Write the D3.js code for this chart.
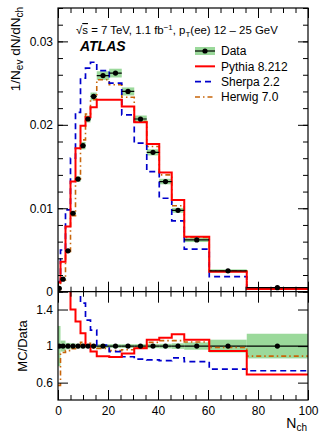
<!DOCTYPE html>
<html>
<head>
<meta charset="utf-8">
<script src="https://cdn.jsdelivr.net/npm/d3@7"></script>
<style>
  body { margin: 0; background: #fff; }
  svg { display: block; font-family: "Liberation Sans", Arial, sans-serif; }
  .axis .domain { display: none; }
  .axis line { stroke: #000; stroke-width: 1; }
  .axis text { font-size: 12px; fill: #000; }
</style>
</head>
<body>
<div id="wrapper"></div>
<script>
// bin edges in N_ch, and values
const binEdges = [0, 1, 3, 5, 7, 9, 11, 13, 15.5, 20.5, 25.5, 30.5, 35.5, 40.5, 45.5, 50.5, 60.5, 75.5, 100];
const dataValues = [0.0004, 0.0015, 0.0049, 0.0094, 0.0135, 0.0175, 0.0207, 0.0234, 0.0259, 0.0262, 0.0240, 0.0207, 0.0167, 0.0132, 0.00975, 0.0062, 0.0025, 0.00048];
const dataRelErr = [0.22, 0.06, 0.035, 0.03, 0.025, 0.025, 0.02, 0.02, 0.02, 0.02, 0.02, 0.02, 0.022, 0.025, 0.03, 0.04, 0.07, 0.135];
const pythiaValues = [0.0011, 0.0036, 0.0078, 0.0132, 0.0172, 0.0199, 0.0209, 0.0221, 0.0230, 0.0230, 0.0222, 0.0203, 0.0177, 0.0143, 0.0110, 0.0066, 0.0024, 0.00033];
const sherpaValues = [0.0012, 0.0050, 0.0098, 0.0160, 0.0215, 0.0256, 0.0268, 0.0275, 0.0265, 0.0250, 0.0212, 0.0178, 0.0144, 0.0112, 0.0085, 0.0051, 0.0018, 0.00034];
const herwigValues = [0.00023, 0.0014, 0.0047, 0.0091, 0.0135, 0.0182, 0.0213, 0.0230, 0.0254, 0.0248, 0.0233, 0.0204, 0.0174, 0.0140, 0.0103, 0.0065, 0.0025, 0.00043];
const pythiaRatio = [2.7, 2.4, 1.62, 1.40, 1.27, 1.14, 1.01, 0.94, 0.89, 0.88, 0.92, 0.975, 1.07, 1.09, 1.13, 1.07, 0.945, 0.69];
const sherpaRatio = [3.0, 3.3, 2.0, 1.7, 1.62, 1.47, 1.285, 1.175, 1.01, 0.94, 0.883, 0.857, 0.85, 0.84, 0.87, 0.83, 0.748, 0.73];
const herwigRatio = [0.57, 0.93, 0.95, 0.97, 1.00, 1.04, 1.03, 0.98, 0.975, 0.95, 0.96, 0.985, 1.04, 1.06, 1.06, 1.045, 0.985, 0.89];

const xTicksMajor = [0, 20, 40, 60, 80, 100];
const yTopTicksMajor = [0, 0.01, 0.02, 0.03];
const yTopTickLabels = ["0", "0.01", "0.02", "0.03"];
const yRatioTicksMajor = [0.6, 1, 1.4];
const yRatioTickLabels = ["0.6", "1", "1.4"];

const legendNames = ["Data", "Pythia 8.212", "Sherpa 2.2", "Herwig 7.0"];

function drawChart() {
    // 1. dimensions
    const dimensions = {
        width: 320,
        height: 432,
        left: 58,
        right: 308,
        top: 8,
        split: 291.7,
        bottom: 400,
    };

    const bins = dataValues.map((d, i) => ({
        lo: binEdges[i],
        hi: binEdges[i + 1],
        mid: (binEdges[i] + binEdges[i + 1]) / 2,
        data: d,
        err: dataRelErr[i],
    }));

    const models = [
        { name: "pythia", top: pythiaValues, ratio: pythiaRatio, color: "#ff0000", width: 2, dash: null },
        { name: "sherpa", top: sherpaValues, ratio: sherpaRatio, color: "#0000cc", width: 1.7, dash: "6,4" },
        { name: "herwig", top: herwigValues, ratio: herwigRatio, color: "#c8650a", width: 1.6, dash: "5,3,1.5,3" },
    ];

    // 2. canvas
    const svg = d3.select("#wrapper").append("svg")
        .attr("width", dimensions.width)
        .attr("height", dimensions.height);

    const defs = svg.append("defs");
    defs.append("clipPath").attr("id", "clip-top").append("rect")
        .attr("x", dimensions.left).attr("y", dimensions.top)
        .attr("width", dimensions.right - dimensions.left)
        .attr("height", dimensions.split - dimensions.top);
    defs.append("clipPath").attr("id", "clip-ratio").append("rect")
        .attr("x", dimensions.left).attr("y", dimensions.split)
        .attr("width", dimensions.right - dimensions.left)
        .attr("height", dimensions.bottom - dimensions.split);

    // 3. scales
    const xScale = d3.scaleLinear().domain([0, 100]).range([dimensions.left, dimensions.right]);
    const yTop = d3.scaleLinear().domain([0, 0.034]).range([dimensions.split, dimensions.top]);
    const yRatio = d3.scaleLinear().domain([0.41, 1.595]).range([dimensions.bottom, dimensions.split]);

    const topG = svg.append("g").attr("clip-path", "url(#clip-top)");
    const ratioG = svg.append("g").attr("clip-path", "url(#clip-ratio)");

    // 4. data error bands
    topG.selectAll(".band").data(bins).join("rect")
        .attr("x", d => xScale(d.lo))
        .attr("width", d => xScale(d.hi) - xScale(d.lo))
        .attr("y", d => yTop(d.data * (1 + d.err)))
        .attr("height", d => yTop(d.data * (1 - d.err)) - yTop(d.data * (1 + d.err)))
        .attr("fill", "#9bd99b");

    ratioG.selectAll(".band").data(bins).join("rect")
        .attr("x", d => xScale(d.lo))
        .attr("width", d => xScale(d.hi) - xScale(d.lo))
        .attr("y", d => yRatio(1 + d.err))
        .attr("height", d => yRatio(1 - d.err) - yRatio(1 + d.err))
        .attr("fill", "#9bd99b");

    // 5. MC step lines
    const stepPoints = values => {
        const pts = values.map((v, i) => [binEdges[i], v]);
        pts.push([binEdges[binEdges.length - 1], values[values.length - 1]]);
        return pts;
    };

    const topLine = d3.line()
        .x(d => xScale(d[0]))
        .y(d => yTop(d[1]))
        .curve(d3.curveStepAfter);
    const ratioLine = d3.line()
        .x(d => xScale(d[0]))
        .y(d => yRatio(d[1]))
        .curve(d3.curveStepAfter);

    // data bars on the ratio first, then models above
    ratioG.selectAll(".hbar").data(bins).join("line")
        .attr("x1", d => xScale(d.lo)).attr("x2", d => xScale(d.hi))
        .attr("y1", yRatio(1)).attr("y2", yRatio(1))
        .attr("stroke", "#000").attr("stroke-width", 1.2);

    [models[2], models[1], models[0]].forEach(m => {
        topG.append("path")
            .attr("d", topLine(stepPoints(m.top)))
            .attr("fill", "none")
            .attr("stroke", m.color)
            .attr("stroke-width", m.width)
            .attr("stroke-dasharray", m.dash);
        ratioG.append("path")
            .attr("d", ratioLine(stepPoints(m.ratio)))
            .attr("fill", "none")
            .attr("stroke", m.color)
            .attr("stroke-width", m.width)
            .attr("stroke-dasharray", m.dash);
    });

    // 6. data points
    topG.selectAll(".hbar").data(bins).join("line")
        .attr("x1", d => xScale(d.lo)).attr("x2", d => xScale(d.hi))
        .attr("y1", d => yTop(d.data)).attr("y2", d => yTop(d.data))
        .attr("stroke", "#000").attr("stroke-width", 1.2);
    topG.selectAll(".pt").data(bins).join("circle")
        .attr("cx", d => xScale(d.mid)).attr("cy", d => yTop(d.data))
        .attr("r", 2.6).attr("fill", "#000");
    ratioG.selectAll(".pt").data(bins).join("circle")
        .attr("cx", d => xScale(d.mid)).attr("cy", yRatio(1))
        .attr("r", 2.6).attr("fill", "#000");

    // 7. axes (ticks pointing inward)
    const addAxis = (gen, tx, ty) => svg.append("g")
        .attr("class", "axis")
        .attr("transform", `translate(${tx}, ${ty})`)
        .call(gen);

    const xMinor = d3.range(0, 101, 5);
    const yTopMinor = d3.range(0, 0.0341, 0.002);

    // top panel
    addAxis(d3.axisLeft(yTop).tickValues(yTopMinor).tickSizeInner(-5).tickSizeOuter(0).tickFormat(""), dimensions.left, 0);
    addAxis(d3.axisLeft(yTop).tickValues(yTopTicksMajor).tickSizeInner(-10).tickSizeOuter(0).tickPadding(5)
        .tickFormat((d, i) => yTopTickLabels[i]), dimensions.left, 0);
    addAxis(d3.axisRight(yTop).tickValues(yTopMinor).tickSizeInner(-5).tickSizeOuter(0).tickFormat(""), dimensions.right, 0);
    addAxis(d3.axisRight(yTop).tickValues(yTopTicksMajor).tickSizeInner(-10).tickSizeOuter(0).tickFormat(""), dimensions.right, 0);
    addAxis(d3.axisTop(xScale).tickValues(xMinor).tickSizeInner(-5).tickSizeOuter(0).tickFormat(""), 0, dimensions.top);
    addAxis(d3.axisTop(xScale).tickValues(xTicksMajor).tickSizeInner(-10).tickSizeOuter(0).tickFormat(""), 0, dimensions.top);
    addAxis(d3.axisBottom(xScale).tickValues(xMinor).tickSizeInner(-5).tickSizeOuter(0).tickFormat(""), 0, dimensions.split);
    addAxis(d3.axisBottom(xScale).tickValues(xTicksMajor).tickSizeInner(-10).tickSizeOuter(0).tickFormat(""), 0, dimensions.split);

    // ratio panel
    addAxis(d3.axisLeft(yRatio).tickValues(yRatioTicksMajor).tickSizeInner(-10).tickSizeOuter(0).tickPadding(5)
        .tickFormat((d, i) => yRatioTickLabels[i]), dimensions.left, 0);
    addAxis(d3.axisRight(yRatio).tickValues(yRatioTicksMajor).tickSizeInner(-10).tickSizeOuter(0).tickFormat(""), dimensions.right, 0);
    addAxis(d3.axisBottom(xScale).tickValues(xMinor).tickSizeInner(-5).tickSizeOuter(0).tickFormat(""), 0, dimensions.split)
        .selectAll("line").attr("y2", 5);
    addAxis(d3.axisBottom(xScale).tickValues(xTicksMajor).tickSizeInner(-10).tickSizeOuter(0).tickFormat(""), 0, dimensions.split)
        .selectAll("line").attr("y2", 11);
    addAxis(d3.axisBottom(xScale).tickValues(xMinor).tickSizeInner(-5).tickSizeOuter(0).tickFormat(""), 0, dimensions.bottom);
    addAxis(d3.axisBottom(xScale).tickValues(xTicksMajor).tickSizeInner(-10).tickSizeOuter(0).tickPadding(6)
        .tickFormat(d3.format("d")), 0, dimensions.bottom);

    // frames
    svg.append("rect")
        .attr("x", dimensions.left).attr("y", dimensions.top)
        .attr("width", dimensions.right - dimensions.left)
        .attr("height", dimensions.bottom - dimensions.top)
        .attr("fill", "none").attr("stroke", "#000").attr("stroke-width", 1.2);
    svg.append("line")
        .attr("x1", dimensions.left).attr("x2", dimensions.right)
        .attr("y1", dimensions.split).attr("y2", dimensions.split)
        .attr("stroke", "#000").attr("stroke-width", 1.2);

    // 8. axis titles
    const yTitle = svg.append("text")
        .attr("transform", "translate(20, 7) rotate(-90)")
        .attr("text-anchor", "end")
        .style("font-size", "13.5px");
    yTitle.append("tspan").text("1/N");
    yTitle.append("tspan").attr("dy", 3).style("font-size", "10px").text("ev");
    yTitle.append("tspan").attr("dy", -3).text(" dN/dN");
    yTitle.append("tspan").attr("dy", 3).style("font-size", "10px").text("ch");

    svg.append("text")
        .attr("transform", "translate(27, 346) rotate(-90)")
        .attr("text-anchor", "middle")
        .style("font-size", "13px")
        .text("MC/Data");

    const xTitle = svg.append("text")
        .attr("x", 307).attr("y", 428)
        .attr("text-anchor", "end")
        .style("font-size", "14px");
    xTitle.append("tspan").text("N");
    xTitle.append("tspan").attr("dy", 3).style("font-size", "10px").text("ch");

    // 9. labels
    const info = svg.append("text")
        .attr("x", 76).attr("y", 34)
        .style("font-size", "11.4px");
    info.append("tspan").text("√");
    info.append("tspan").style("text-decoration", "overline").text("s");
    info.append("tspan").text(" = 7 TeV, 1.1 fb");
    info.append("tspan").attr("dy", -4).style("font-size", "8px").text("−1");
    info.append("tspan").attr("dy", 4).text(", p");
    info.append("tspan").attr("dy", 2.5).style("font-size", "8px").text("T");
    info.append("tspan").attr("dy", -2.5).text("(ee) 12 – 25 GeV");

    svg.append("text")
        .attr("x", 80).attr("y", 51)
        .style("font-size", "14px")
        .style("font-weight", "bold")
        .style("font-style", "italic")
        .text("ATLAS");

    // 10. legend
    const legend = svg.append("g");
    const legendY = d3.scalePoint().domain(legendNames).range([51, 97]);
    const lx0 = 195, lx1 = 215;

    legend.append("rect")
        .attr("x", lx0).attr("width", lx1 - lx0)
        .attr("y", legendY("Data") - 4).attr("height", 8)
        .attr("fill", "#9bd99b");
    legend.append("line")
        .attr("x1", lx0).attr("x2", lx1)
        .attr("y1", legendY("Data")).attr("y2", legendY("Data"))
        .attr("stroke", "#000").attr("stroke-width", 1.2);
    legend.append("circle")
        .attr("cx", (lx0 + lx1) / 2).attr("cy", legendY("Data"))
        .attr("r", 2.6).attr("fill", "#000");

    models.forEach((m, i) => {
        const y = legendY(legendNames[i + 1]);
        legend.append("line")
            .attr("x1", lx0).attr("x2", lx1)
            .attr("y1", y).attr("y2", y)
            .attr("stroke", m.color)
            .attr("stroke-width", m.width)
            .attr("stroke-dasharray", m.dash);
    });

    legend.selectAll(".ltext").data(legendNames).join("text")
        .attr("x", 221)
        .attr("y", d => legendY(d) + 4.3)
        .style("font-size", "12px")
        .text(d => d);
}

drawChart();
</script>
</body>
</html>
